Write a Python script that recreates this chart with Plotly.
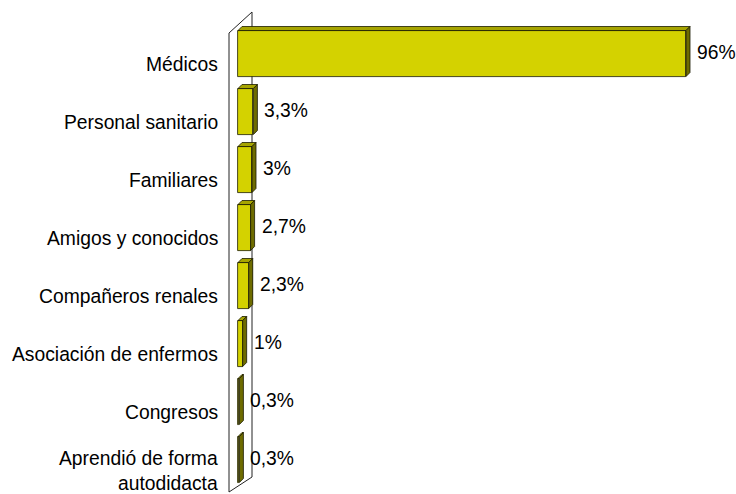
import plotly.graph_objects as go

# ---- data ----
categories = [
    "Médicos",
    "Personal sanitario",
    "Familiares",
    "Amigos y conocidos",
    "Compañeros renales",
    "Asociación de enfermos",
    "Congresos",
    "Aprendió de forma<br>autodidacta",
]
values = [96, 3.3, 3, 2.7, 2.3, 1, 0.3, 0.3]

# ---- layout constants (pixel mapping) ----
W, H = 736, 494
PX0 = 238.0                 # pixel of value 0
K = 448.0 / 96.0            # pixels per percent
PY0 = 53.5                  # pixel of first bar centre
DY = 58.0                   # pixels per category
BAR_W = 46.0 / DY           # bar thickness in category units

def px2x(px):
    return (px - PX0) / K

def py2y(py):
    return (py - PY0) / DY

FONT = "Arial, Liberation Sans, sans-serif"
FS = 19.3
FRONT = "#d4d200"
TOP = "#a6a400"
SIDE = "#6e6c00"
EDGE = "#1a1a00"

# 3D offsets (in data units)
ddx = 4.0 / K
ddy = -4.0 / DY

idx = list(range(len(categories)))
h = BAR_W / 2

fig = go.Figure()

# front faces
fig.add_trace(go.Bar(
    x=values, y=idx, orientation="h", width=BAR_W,
    marker=dict(color=FRONT, line=dict(color=EDGE, width=0.8)),
    hoverinfo="skip", showlegend=False,
))

# top faces
tx, ty = [], []
for i, v in zip(idx, values):
    tx += [0, v, v + ddx, ddx, 0, None]
    ty += [i - h, i - h, i - h + ddy, i - h + ddy, i - h, None]
fig.add_trace(go.Scatter(
    x=tx, y=ty, mode="lines", fill="toself", fillcolor=TOP,
    line=dict(color=EDGE, width=0.8), hoverinfo="skip", showlegend=False,
))

# side faces
sx, sy = [], []
for i, v in zip(idx, values):
    sx += [v, v + ddx, v + ddx, v, v, None]
    sy += [i - h, i - h + ddy, i + h + ddy, i + h, i - h, None]
fig.add_trace(go.Scatter(
    x=sx, y=sy, mode="lines", fill="toself", fillcolor=SIDE,
    line=dict(color=EDGE, width=0.8), hoverinfo="skip", showlegend=False,
))

# wall (decorative back panel)
fx, bx = px2x(229), px2x(252)
wall = (f"M {fx},{py2y(33)} L {bx},{py2y(12)} L {bx},{py2y(477)} "
        f"L {fx},{py2y(492)} Z")
fig.add_shape(type="path", path=wall, xref="x", yref="y",
              fillcolor="white", line=dict(color="#222222", width=1),
              layer="below")

# category labels
for i, c in zip(idx, categories):
    fig.add_annotation(
        x=px2x(220), y=i, xref="x", yref="y", text=c, showarrow=False,
        xanchor="right", yanchor="middle", align="right", yshift=-11,
        font=dict(family=FONT, size=FS, color="#000000"),
    )

# value labels
for i, v in zip(idx, values):
    txt = f"{v:g}".replace(".", ",") + "%"
    fig.add_annotation(
        x=v, y=i, xref="x", yref="y", text=txt, showarrow=False,
        xanchor="left", yanchor="middle", xshift=9, yshift=1,
        font=dict(family=FONT, size=FS, color="#000000"),
    )

fig.update_layout(
    width=W, height=H,
    margin=dict(l=0, r=0, t=0, b=0),
    paper_bgcolor="white", plot_bgcolor="white",
    xaxis=dict(range=[px2x(0), px2x(W)], visible=False, fixedrange=True),
    yaxis=dict(range=[py2y(H), py2y(0)], visible=False, fixedrange=True),
    bargap=0,
)

fig.write_html(
    "out.html",
    config={"displayModeBar": False},
    post_script="document.body.style.margin='0';document.body.style.overflow='hidden';",
)
